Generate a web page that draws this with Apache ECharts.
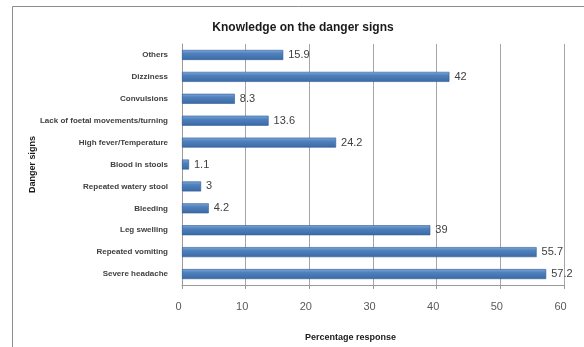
<!DOCTYPE html>
<html><head><meta charset="utf-8">
<script src="https://cdn.jsdelivr.net/npm/echarts@6/dist/echarts.min.js"></script>
<style>html,body{margin:0;padding:0;background:#fff}#c{width:584px;height:347px}</style>
</head><body><div id="c"></div>
<script>
const categories = ["Severe headache","Repeated vomiting","Leg swelling","Bleeding","Repeated watery stool","Blood in stools","High fever/Temperature","Lack of foetal movements/turning","Convulsions","Dizziness","Others"];
const values = [57.2,55.7,39,4.2,3,1.1,24.2,13.6,8.3,42,15.9];
const xTicks = [0,10,20,30,40,50,60];

const chart = echarts.init(document.getElementById('c'));
chart.setOption({
  animation:false,
  backgroundColor:'#fff',
  title:{text:'Knowledge on the danger signs',left:298,top:17,textAlign:'center',
    textStyle:{fontFamily:'Liberation Sans',fontSize:12,fontWeight:'bold',color:'#1a1a1a'}},
  graphic:[{type:'rect',shape:{x:12.5,y:6.5,width:700,height:400},style:{fill:null,stroke:'#8c8c8c',lineWidth:1},silent:true}],
  grid:{left:182,right:20,top:44,bottom:62},
  xAxis:{type:'value',min:xTicks[0],max:xTicks[xTicks.length-1],interval:10,
    name:'Percentage response',nameLocation:'start',nameGap:0,
    nameTextStyle:{fontFamily:'Liberation Sans',fontSize:9,fontWeight:'bold',color:'#1a1a1a',
      align:'left',verticalAlign:'top',padding:[48,0,0,123]},
    axisLine:{show:true,lineStyle:{color:'#9a9a9a'}},
    axisTick:{show:true,length:4,lineStyle:{color:'#9a9a9a'}},
    axisLabel:{fontFamily:'Liberation Sans',fontSize:11,color:'#595959',margin:16,padding:[0,7,0,0]},
    splitLine:{show:true,lineStyle:{color:'#a6a6a6',width:1}}},
  yAxis:{type:'category',data:categories,
    name:'Danger signs',nameLocation:'middle',nameGap:145,nameRotate:90,nameMoveOverlap:false,
    nameTextStyle:{fontFamily:'Liberation Sans',fontSize:9,fontWeight:'bold',color:'#1a1a1a'},
    axisLine:{show:true,lineStyle:{color:'#9a9a9a'}},
    axisTick:{show:false},
    axisLabel:{fontFamily:'Liberation Sans Narrow, Liberation Sans',fontSize:8,fontWeight:'bold',color:'#404040',margin:14}},
  series:[{type:'bar',data:values,barWidth:10,
    itemStyle:{color:new echarts.graphic.LinearGradient(0,0,0,1,[
      {offset:0,color:'#7ea6db'},{offset:0.35,color:'#4f81bd'},{offset:1,color:'#3b6aa6'}]),
      borderColor:'#2f5b94',borderWidth:0.6},
    label:{show:true,position:'right',distance:5,fontFamily:'Liberation Sans',fontSize:11,color:'#404040'}}]
});
</script></body></html>
